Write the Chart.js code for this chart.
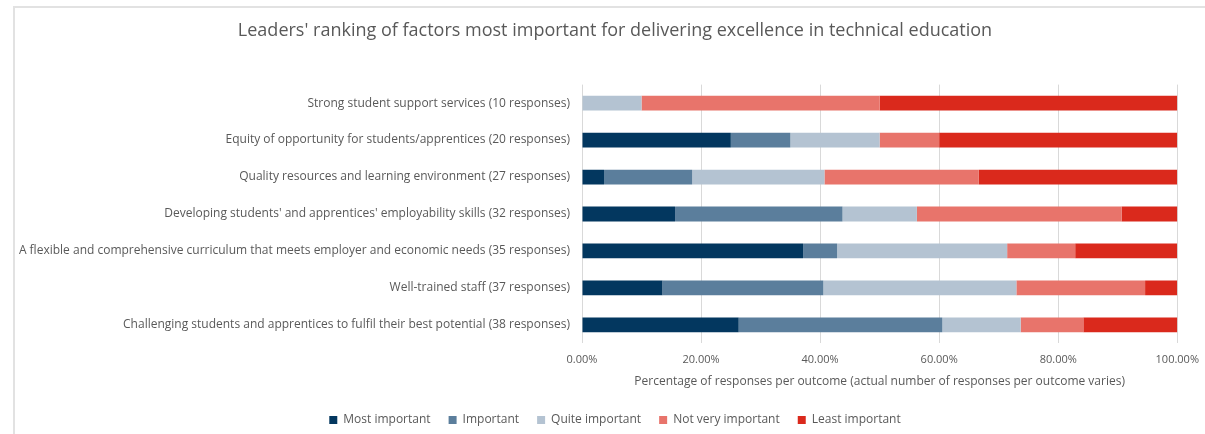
<!DOCTYPE html>
<html>
<head>
<meta charset="utf-8">
<script src="https://cdn.jsdelivr.net/npm/chart.js@4.4.1/dist/chart.umd.min.js"></script>
<style>
  html, body { margin: 0; padding: 0; background: #ffffff; overflow: hidden; }
  #wrap { position: relative; width: 1205px; height: 434px; overflow: hidden; }
  #frame { position: absolute; left: 13px; top: 6px; width: 1300px; height: 500px;
           border-left: 2px solid #e2e2e2; border-top: 2px solid #e2e2e2; pointer-events: none; }
  canvas { position: absolute; left: 0; top: 0; }
</style>
</head>
<body>
<div id="wrap">
  <canvas id="c" width="1209" height="436"></canvas>
  <div id="frame"></div>
</div>
<script>
const titleText = "Leaders' ranking of factors most important for delivering excellence in technical education";
const xAxisTitle = "Percentage of responses per outcome (actual number of responses per outcome varies)";

const categories = [
  "Strong student support services (10 responses)",
  "Equity of opportunity for students/apprentices (20 responses)",
  "Quality resources and learning environment (27 responses)",
  "Developing students' and apprentices' employability skills (32 responses)",
  "A flexible and comprehensive curriculum that meets employer and economic needs (35 responses)",
  "Well-trained staff (37 responses)",
  "Challenging students and apprentices to fulfil their best potential (38 responses)"
];

const seriesNames = ["Most important", "Important", "Quite important", "Not very important", "Least important"];

const mostImportant    = [0,  25, 3.70, 15.63, 37.14, 13.51, 26.32];
const important        = [0,  10, 14.81, 28.13, 5.71, 27.03, 34.21];
const quiteImportant   = [10, 15, 22.22, 12.50, 28.57, 32.43, 13.16];
const notVeryImportant = [40, 10, 25.93, 34.38, 11.43, 21.62, 10.53];
const leastImportant   = [50, 40, 33.33, 9.38, 17.14, 5.41, 15.79];

const xTicks = [0, 20, 40, 60, 80, 100];

const colors = ["#03375f", "#5b7e9c", "#b4c3d2", "#e8746b", "#da291c"];
const seriesData = [mostImportant, important, quiteImportant, notVeryImportant, leastImportant];

const FONT = "'Open Sans', 'Liberation Sans', sans-serif";
const GREY = "#595959";
const PAD_LEFT = 45;

// let the long category labels draw past the (padded) left edge of the y scale
const unclipLabels = {
  id: 'unclipLabels',
  afterLayout(chart) { chart.scales.y.left = 0; }
};

new Chart(document.getElementById('c'), {
  type: 'bar',
  data: {
    labels: categories,
    datasets: seriesNames.map((name, i) => ({
      label: name,
      data: seriesData[i],
      backgroundColor: colors[i],
      borderWidth: 0,
      categoryPercentage: 0.4,
      barPercentage: 1.0
    }))
  },
  plugins: [unclipLabels],
  options: {
    indexAxis: 'y',
    responsive: false,
    animation: false,
    layout: { padding: { left: PAD_LEFT, right: 24, top: 0, bottom: 0 } },
    scales: {
      x: {
        stacked: true,
        min: 0, max: 100,
        afterBuildTicks: (scale) => { scale.ticks = xTicks.map(v => ({ value: v })); },
        grid: { color: '#d9d9d9', lineWidth: 1, drawTicks: false },
        border: { display: false },
        ticks: {
          color: GREY, padding: 10,
          font: { family: FONT, size: 11 },
          callback: (v) => Number(v).toFixed(2) + '%'
        },
        title: {
          display: true, text: xAxisTitle, color: GREY,
          font: { family: FONT, size: 12 }, padding: { top: -2, bottom: 7 }
        }
      },
      y: {
        stacked: true,
        afterFit: (scale) => { scale.width = 582 - PAD_LEFT; },
        grid: { display: false, drawTicks: false },
        border: { display: false },
        ticks: { color: GREY, padding: 12, font: { family: FONT, size: 12 } }
      }
    },
    plugins: {
      title: {
        display: true, text: titleText, color: GREY,
        font: { family: FONT, size: 18, weight: 'normal' },
        padding: { top: 20, bottom: 43 }
      },
      legend: {
        position: 'bottom',
        labels: {
          color: GREY, boxWidth: 8, boxHeight: 8, padding: 18,
          font: { family: FONT, size: 12 }
        }
      },
      tooltip: { enabled: false }
    }
  }
});
</script>
</body>
</html>
